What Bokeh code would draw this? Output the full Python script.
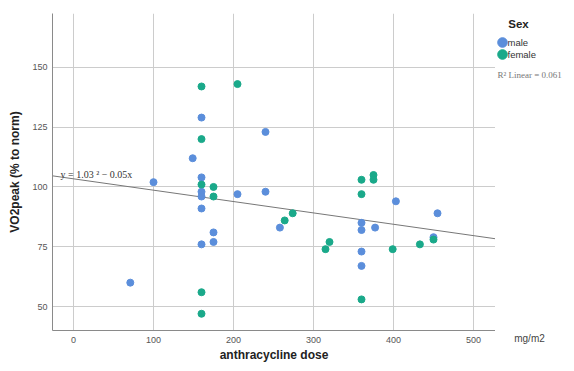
from bokeh.plotting import figure
from bokeh.layouts import row
from bokeh.models import (FixedTicker, Range1d, Label, Legend, LegendItem, LinearAxis)
from bokeh.embed import file_html
from bokeh.resources import INLINE

# ---- data ----
male_dose = [71, 100, 149, 160, 160, 160, 160, 160, 160, 175, 175, 205, 240, 240, 258,
             360, 360, 360, 360, 377, 403, 455, 450]
male_vo2 = [60, 102, 112, 129, 104, 98, 96, 91, 76, 81, 77, 97, 123, 98, 83,
            85, 82, 73, 67, 83, 94, 89, 79]
female_dose = [160, 205, 160, 160, 175, 175, 160, 160, 264, 274, 315, 320, 360, 360,
               360, 375, 375, 399, 433, 450]
female_vo2 = [142, 143, 120, 101, 100, 96, 56, 47, 86, 89, 74, 77, 103, 97,
              53, 105, 103, 74, 76, 78]
groups = ["male", "female"]

x_ticks = [0, 100, 200, 300, 400, 500]
y_ticks = [50, 75, 100, 125, 150]
fit_intercept = 103.4
fit_slope = -0.0475
fit_x = [-26, 527]
fit_y = [fit_intercept + fit_slope * v for v in fit_x]

MALE = "#5b8edb"
FEMALE = "#1aa98a"

H = 364

p = figure(width=495, height=H, output_backend="svg", toolbar_location=None,
           x_range=Range1d(-26.25, 527.5), y_range=Range1d(40, 172.5),
           min_border_left=52, min_border_right=0, min_border_top=13, min_border_bottom=33)
p.outline_line_color = None

for ax in (p.xaxis[0], p.yaxis[0]):
    ax.major_tick_out = 0
    ax.major_tick_in = 0
    ax.minor_tick_out = 0
    ax.minor_tick_in = 0
    ax.axis_line_color = "#8a8a8a"
    ax.major_label_text_font = "Liberation Sans"
    ax.major_label_text_font_size = "9px"
    ax.major_label_text_color = "#555555"
    ax.axis_label_text_font = "Liberation Sans"
    ax.axis_label_text_font_style = "bold"
    ax.axis_label_text_font_size = "12px"
    ax.axis_label_text_color = "#222222"

p.xaxis[0].ticker = FixedTicker(ticks=x_ticks)
p.yaxis[0].ticker = FixedTicker(ticks=y_ticks)
p.xaxis[0].axis_label = "anthracycline dose"
p.yaxis[0].axis_label = "VO2peak (% to norm)"
p.xaxis[0].major_label_standoff = 6
p.xaxis[0].axis_label_standoff = 2
p.yaxis[0].major_label_standoff = 5
p.yaxis[0].axis_label_standoff = 7

p.xgrid.ticker = FixedTicker(ticks=x_ticks)
p.ygrid.ticker = FixedTicker(ticks=y_ticks)
p.xgrid.grid_line_color = "#cccccc"
p.ygrid.grid_line_color = "#cccccc"

p.line(fit_x, fit_y, line_color="#777777", line_width=1)
p.scatter(male_dose, male_vo2, size=7, fill_color=MALE, line_color=MALE)
p.scatter(female_dose, female_vo2, size=7, fill_color=FEMALE, line_color=FEMALE)

p.add_layout(Label(x=8, y=156, x_units="screen", y_units="screen",
                   text="y = 1.03 \u00b2 \u2212 0.05x", text_align="left", text_baseline="middle",
                   text_font="Liberation Serif", text_font_size="10px", text_color="#333333"))

# ---- side panel: legend and notes (its ranges keep the proxy points out of view) ----
s = figure(width=68, height=H, output_backend="svg", toolbar_location=None,
           x_range=Range1d(-200, -100), y_range=Range1d(-200, -100),
           x_axis_location=None, y_axis_location=None,
           min_border_left=0, min_border_right=0, min_border_top=13, min_border_bottom=33)
s.outline_line_color = None
s.xgrid.visible = False
s.ygrid.visible = False

lm = s.scatter(male_dose, male_vo2, size=10, fill_color=MALE, line_color=MALE)
lf = s.scatter(female_dose, female_vo2, size=10, fill_color=FEMALE, line_color=FEMALE)

for rend, bottom in ((lm, 276), (lf, 264)):
    lg = Legend(items=[LegendItem(label=" ", renderers=[rend])],
                location=(-5, bottom), padding=0, margin=0, spacing=0,
                glyph_width=24, glyph_height=24, label_standoff=0, label_width=1,
                label_height=10, label_text_font_size="9px",
                background_fill_alpha=0, border_line_color=None)
    s.add_layout(lg, "center")

for name, ypos in zip(groups, (288, 276)):
    s.add_layout(Label(x=12, y=ypos, x_units="screen", y_units="screen", text=name,
                       text_align="left", text_baseline="middle",
                       text_font="Liberation Sans", text_font_size="9.5px",
                       text_color="#333333"))

s.add_layout(Label(x=23, y=307, x_units="screen", y_units="screen", text="Sex",
                   text_align="center", text_baseline="middle",
                   text_font="Liberation Sans", text_font_style="bold",
                   text_font_size="11.5px", text_color="#222222"))
s.add_layout(Label(x=2, y=256, x_units="screen", y_units="screen",
                   text="R\u00b2 Linear = 0.061", text_align="left", text_baseline="middle",
                   text_font="Liberation Serif", text_font_size="9px", text_color="#777777"))

unit_axis = LinearAxis(ticker=FixedTicker(ticks=[]), axis_label="mg/m2",
                       axis_line_color=None, major_tick_out=0, major_tick_in=0,
                       minor_tick_out=0, minor_tick_in=0, major_label_standoff=0,
                       axis_label_standoff=2, axis_label_text_font="Liberation Sans",
                       axis_label_text_font_style="normal", axis_label_text_font_size="10px",
                       axis_label_text_color="#444444")
s.add_layout(unit_axis, "below")

layout = row(p, s, spacing=0)
open("out.html", "w").write(file_html(layout, INLINE))
